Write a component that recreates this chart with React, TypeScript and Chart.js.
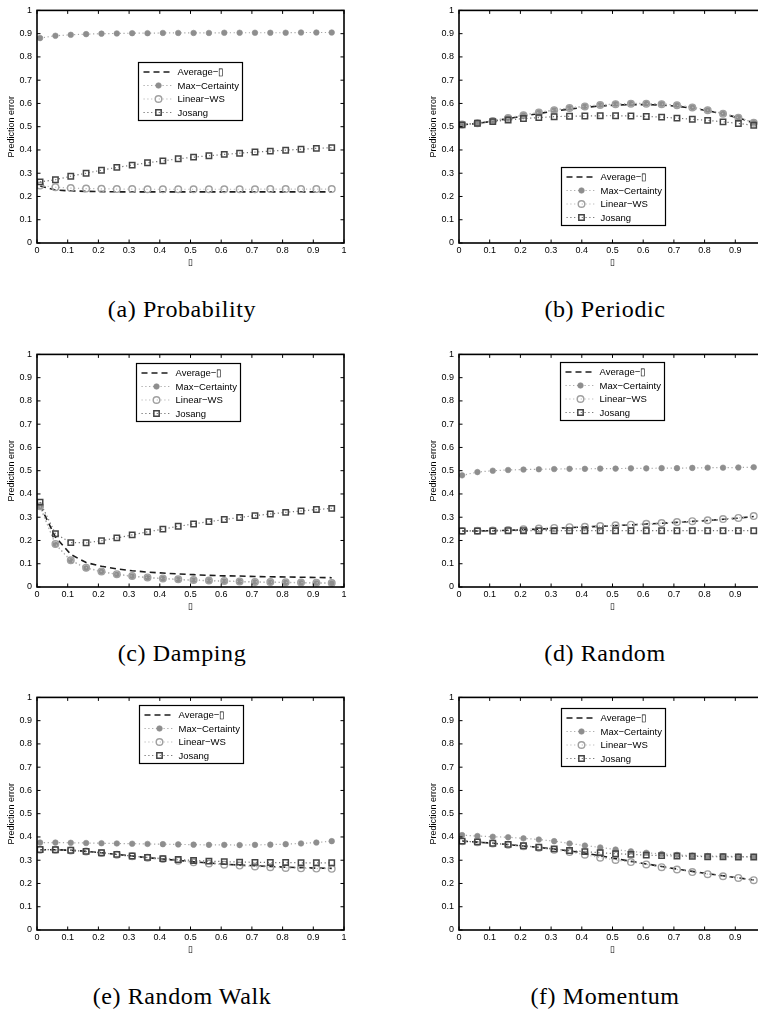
import React, { useEffect, useRef } from 'react';
import { Chart, registerables } from 'chart.js';

Chart.register(...registerables);

// ---------------- data ----------------
const LAMBDA = [0.01, 0.06, 0.11, 0.16, 0.21, 0.26, 0.31, 0.36, 0.41, 0.46, 0.51, 0.56, 0.61, 0.66, 0.71, 0.76, 0.81, 0.86, 0.91, 0.96];
const X_TICKS = [0, 0.1, 0.2, 0.3, 0.4, 0.5, 0.6, 0.7, 0.8, 0.9, 1];
const Y_TICKS = [0, 0.1, 0.2, 0.3, 0.4, 0.5, 0.6, 0.7, 0.8, 0.9, 1];
const SERIES_NAMES = ['Average\u2212\u25AF', 'Max\u2212Certainty', 'Linear\u2212WS', 'Josang'];
const CAPTIONS = ['(a) Probability', '(b) Periodic', '(c) Damping', '(d) Random', '(e) Random Walk', '(f) Momentum'];
const X_TITLE = '\u25AF';
const Y_TITLE = 'Prediction error';

// (a) Probability
const PROBABILITY_AVERAGE = [0.245, 0.228, 0.224, 0.222, 0.221, 0.220, 0.220, 0.220, 0.220, 0.220, 0.220, 0.220, 0.220, 0.220, 0.220, 0.220, 0.220, 0.220, 0.220, 0.220];
const PROBABILITY_MAX = [0.881, 0.891, 0.895, 0.898, 0.900, 0.901, 0.902, 0.902, 0.903, 0.903, 0.903, 0.903, 0.904, 0.904, 0.904, 0.904, 0.904, 0.905, 0.905, 0.905];
const PROBABILITY_LINEAR = [0.247, 0.240, 0.236, 0.234, 0.233, 0.232, 0.232, 0.231, 0.231, 0.231, 0.231, 0.231, 0.231, 0.231, 0.231, 0.232, 0.232, 0.232, 0.232, 0.232];
const PROBABILITY_JOSANG = [0.263, 0.272, 0.287, 0.300, 0.313, 0.325, 0.335, 0.345, 0.353, 0.362, 0.369, 0.375, 0.381, 0.386, 0.391, 0.395, 0.399, 0.403, 0.407, 0.410];

// (b) Periodic
const PERIODIC_AVERAGE = [0.508, 0.514, 0.524, 0.535, 0.546, 0.557, 0.567, 0.576, 0.583, 0.589, 0.593, 0.595, 0.595, 0.593, 0.588, 0.580, 0.569, 0.555, 0.538, 0.516];
const PERIODIC_MAX = [0.510, 0.516, 0.526, 0.538, 0.550, 0.562, 0.572, 0.581, 0.588, 0.594, 0.598, 0.600, 0.600, 0.598, 0.593, 0.584, 0.572, 0.557, 0.540, 0.518];
const PERIODIC_LINEAR = [0.509, 0.515, 0.525, 0.537, 0.549, 0.561, 0.571, 0.580, 0.587, 0.593, 0.597, 0.599, 0.599, 0.597, 0.592, 0.583, 0.571, 0.556, 0.539, 0.517];
const PERIODIC_JOSANG = [0.508, 0.515, 0.522, 0.529, 0.535, 0.539, 0.543, 0.545, 0.546, 0.547, 0.547, 0.546, 0.544, 0.541, 0.537, 0.532, 0.527, 0.521, 0.514, 0.506];

// (c) Damping
const DAMPING_AVERAGE = [0.350, 0.215, 0.140, 0.105, 0.089, 0.078, 0.070, 0.064, 0.060, 0.056, 0.053, 0.050, 0.048, 0.047, 0.045, 0.044, 0.043, 0.042, 0.041, 0.040];
const DAMPING_MAX = [0.345, 0.183, 0.113, 0.081, 0.066, 0.054, 0.046, 0.040, 0.036, 0.032, 0.029, 0.027, 0.025, 0.023, 0.021, 0.020, 0.019, 0.018, 0.017, 0.016];
const DAMPING_LINEAR = [0.347, 0.185, 0.115, 0.083, 0.067, 0.055, 0.047, 0.041, 0.037, 0.033, 0.030, 0.028, 0.026, 0.024, 0.022, 0.021, 0.020, 0.019, 0.018, 0.017];
const DAMPING_JOSANG = [0.365, 0.229, 0.191, 0.190, 0.199, 0.211, 0.224, 0.237, 0.249, 0.261, 0.271, 0.281, 0.290, 0.299, 0.307, 0.314, 0.321, 0.327, 0.333, 0.338];

// (d) Random
const RANDOM_AVERAGE = [0.241, 0.241, 0.242, 0.244, 0.246, 0.249, 0.252, 0.255, 0.258, 0.261, 0.264, 0.267, 0.271, 0.274, 0.278, 0.282, 0.286, 0.291, 0.296, 0.303];
const RANDOM_MAX = [0.480, 0.494, 0.500, 0.503, 0.505, 0.506, 0.507, 0.508, 0.508, 0.509, 0.509, 0.510, 0.510, 0.511, 0.511, 0.512, 0.513, 0.513, 0.514, 0.515];
const RANDOM_LINEAR = [0.241, 0.242, 0.243, 0.245, 0.248, 0.251, 0.254, 0.257, 0.259, 0.262, 0.265, 0.268, 0.272, 0.275, 0.279, 0.283, 0.287, 0.292, 0.297, 0.305];
const RANDOM_JOSANG = [0.241, 0.241, 0.241, 0.242, 0.242, 0.242, 0.242, 0.242, 0.242, 0.242, 0.242, 0.242, 0.242, 0.242, 0.242, 0.242, 0.242, 0.242, 0.242, 0.242];

// (e) Random Walk
const WALK_AVERAGE = [0.345, 0.345, 0.343, 0.338, 0.332, 0.325, 0.318, 0.311, 0.305, 0.299, 0.293, 0.288, 0.283, 0.279, 0.276, 0.273, 0.270, 0.268, 0.266, 0.265];
const WALK_MAX = [0.376, 0.376, 0.375, 0.374, 0.373, 0.372, 0.371, 0.370, 0.369, 0.368, 0.367, 0.366, 0.366, 0.365, 0.366, 0.367, 0.369, 0.372, 0.376, 0.382];
const WALK_LINEAR = [0.345, 0.345, 0.342, 0.337, 0.331, 0.324, 0.317, 0.311, 0.305, 0.298, 0.291, 0.286, 0.281, 0.277, 0.273, 0.270, 0.267, 0.265, 0.264, 0.263];
const WALK_JOSANG = [0.346, 0.345, 0.343, 0.338, 0.332, 0.325, 0.318, 0.312, 0.307, 0.303, 0.299, 0.296, 0.294, 0.292, 0.291, 0.290, 0.290, 0.289, 0.289, 0.289];

// (f) Momentum
const MOMENTUM_AVERAGE = [0.382, 0.378, 0.373, 0.367, 0.361, 0.355, 0.348, 0.340, 0.331, 0.319, 0.307, 0.295, 0.284, 0.273, 0.262, 0.252, 0.242, 0.233, 0.224, 0.215];
const MOMENTUM_MAX = [0.408, 0.404, 0.401, 0.399, 0.394, 0.389, 0.382, 0.372, 0.363, 0.355, 0.346, 0.338, 0.332, 0.327, 0.323, 0.320, 0.318, 0.317, 0.316, 0.315];
const MOMENTUM_LINEAR = [0.382, 0.377, 0.372, 0.366, 0.360, 0.354, 0.345, 0.335, 0.324, 0.311, 0.301, 0.292, 0.282, 0.270, 0.260, 0.249, 0.240, 0.231, 0.224, 0.214];
const MOMENTUM_JOSANG = [0.382, 0.379, 0.373, 0.368, 0.362, 0.356, 0.349, 0.342, 0.337, 0.332, 0.328, 0.325, 0.322, 0.320, 0.318, 0.317, 0.315, 0.315, 0.314, 0.314];

const PANEL_SERIES = [
  [PROBABILITY_AVERAGE, PROBABILITY_MAX, PROBABILITY_LINEAR, PROBABILITY_JOSANG],
  [PERIODIC_AVERAGE, PERIODIC_MAX, PERIODIC_LINEAR, PERIODIC_JOSANG],
  [DAMPING_AVERAGE, DAMPING_MAX, DAMPING_LINEAR, DAMPING_JOSANG],
  [RANDOM_AVERAGE, RANDOM_MAX, RANDOM_LINEAR, RANDOM_JOSANG],
  [WALK_AVERAGE, WALK_MAX, WALK_LINEAR, WALK_JOSANG],
  [MOMENTUM_AVERAGE, MOMENTUM_MAX, MOMENTUM_LINEAR, MOMENTUM_JOSANG],
];

// ---------------- layout & style ----------------
const SANS = '"Liberation Sans", Arial, Helvetica, sans-serif';
const SERIF = '"Liberation Serif", "Times New Roman", serif';
const CANVAS_W = 360;
const CANVAS_H = 273;
const PLOT_LEFT = 37;
const PLOT_TOP = 5;
const PLOT_RIGHT_PAD = 16;
const X_AXIS_H = 30;
const TICK_LEN = 3.5;
const LEGEND_FONT = 9.5;
const TICK_FONT = 9;

const COL_LEFT = [0, 422];
const ROW_TOP = [0, 344, 687];
const CAPTION_CENTER = [182, 605];
const CAPTION_BASELINE_OFFSET = 316.7; // from row top
const LEGEND_POS = [
  { dx: 101, dy: 52 },
  { dx: 102, dy: 157 },
  { dx: 99, dy: 9 },
  { dx: 101, dy: 8 },
  { dx: 102, dy: 7.5 },
  { dx: 102, dy: 10.5 },
];

const SERIES_STYLES: any[] = [
  { borderColor: '#1c1c1c', borderWidth: 1.6, borderDash: [6, 4], pointRadius: 0, pointStyle: false, order: 4 },
  { borderColor: '#a6a6a6', borderWidth: 1.2, borderDash: [1.2, 2.6], pointStyle: 'circle', pointRadius: 2.8, pointBackgroundColor: '#8e8e8e', pointBorderColor: '#8e8e8e', pointBorderWidth: 0.6, order: 3 },
  { borderColor: '#b8b8b8', borderWidth: 1.2, borderDash: [1.2, 2.6], pointStyle: 'circle', pointRadius: 3.3, pointBackgroundColor: 'rgba(0,0,0,0)', pointBorderColor: '#a0a0a0', pointBorderWidth: 1.4, order: 2 },
  { borderColor: '#707070', borderWidth: 1.2, borderDash: [1.2, 2.6], pointStyle: 'rect', pointRadius: 3.8, pointBackgroundColor: 'rgba(0,0,0,0)', pointBorderColor: '#444444', pointBorderWidth: 1.5, order: 1 },
];

// ---------------- plugins ----------------
const framePlugin = {
  id: 'matlabFrame',
  afterDatasetsDraw(chart: any) {
    const { ctx, chartArea: a, scales } = chart;
    const xs = scales.x;
    const ys = scales.y;
    ctx.save();
    ctx.strokeStyle = '#000';
    ctx.lineWidth = 1;
    ctx.setLineDash([]);
    ctx.beginPath();
    for (const t of xs.ticks) {
      const px = xs.getPixelForValue(t.value);
      ctx.moveTo(px, a.bottom);
      ctx.lineTo(px, a.bottom - TICK_LEN);
      ctx.moveTo(px, a.top);
      ctx.lineTo(px, a.top + TICK_LEN);
    }
    for (const t of ys.ticks) {
      const py = ys.getPixelForValue(t.value);
      ctx.moveTo(a.left, py);
      ctx.lineTo(a.left + TICK_LEN, py);
      ctx.moveTo(a.right, py);
      ctx.lineTo(a.right - TICK_LEN, py);
    }
    ctx.stroke();
    ctx.lineWidth = 1.6;
    ctx.strokeRect(a.left, a.top, a.right - a.left, a.bottom - a.top);
    ctx.restore();
  },
};

const legendPlugin = {
  id: 'insideLegend',
  afterDraw(chart: any, _args: any, opts: any) {
    const { ctx, chartArea: a } = chart;
    const x0 = Math.round(a.left + opts.dx) + 0.5;
    const y0 = Math.round(a.top + opts.dy) + 0.5;
    const ds = chart.data.datasets;
    ctx.save();
    ctx.font = `${LEGEND_FONT}px ${SANS}`;
    const textW = Math.max(...ds.map((d: any) => ctx.measureText(d.label).width));
    const w = Math.round(39 + textW + 3);
    const h = 58;
    ctx.fillStyle = '#fff';
    ctx.fillRect(x0, y0, w, h);
    ctx.lineWidth = 1.2;
    ctx.strokeStyle = '#000';
    ctx.setLineDash([]);
    ctx.strokeRect(x0, y0, w, h);
    ds.forEach((d: any, i: number) => {
      const cy = y0 + 9.5 + i * 13.5;
      ctx.save();
      ctx.strokeStyle = d.borderColor;
      ctx.lineWidth = d.borderWidth;
      ctx.setLineDash(d.borderDash || []);
      ctx.beginPath();
      ctx.moveTo(x0 + 5, cy);
      ctx.lineTo(x0 + 35, cy);
      ctx.stroke();
      ctx.setLineDash([]);
      if (d.pointRadius > 0) {
        const r = d.pointRadius;
        const cx = x0 + 20;
        ctx.fillStyle = d.pointBackgroundColor;
        ctx.strokeStyle = d.pointBorderColor;
        ctx.lineWidth = d.pointBorderWidth;
        ctx.beginPath();
        if (d.pointStyle === 'rect') {
          const s = r * Math.SQRT1_2;
          ctx.rect(cx - s, cy - s, 2 * s, 2 * s);
        } else {
          ctx.arc(cx, cy, r, 0, Math.PI * 2);
        }
        ctx.fill();
        ctx.stroke();
      }
      ctx.restore();
      ctx.fillStyle = '#000';
      ctx.textBaseline = 'middle';
      ctx.textAlign = 'left';
      ctx.fillText(d.label, x0 + 39, cy + 0.5);
    });
    ctx.restore();
  },
};

// ---------------- components ----------------
function Panel({ index }: { index: number }) {
  const ref = useRef<HTMLCanvasElement>(null);
  const col = index % 2;
  const row = Math.floor(index / 2);
  useEffect(() => {
    const series = PANEL_SERIES[index];
    const tickFont = { family: SANS, size: TICK_FONT };
    const chart = new Chart(ref.current as HTMLCanvasElement, {
      type: 'line',
      data: {
        datasets: series.map((vals, k) => ({
          label: SERIES_NAMES[k],
          data: LAMBDA.map((x, i) => ({ x, y: vals[i] })),
          fill: false,
          tension: 0,
          ...SERIES_STYLES[k],
        })),
      },
      options: {
        animation: false,
        responsive: false,
        devicePixelRatio: 1,
        events: [],
        layout: { padding: { top: PLOT_TOP, left: 0, right: PLOT_RIGHT_PAD, bottom: 0 } },
        plugins: {
          legend: { display: false },
          tooltip: { enabled: false },
          insideLegend: LEGEND_POS[index],
        } as any,
        scales: {
          x: {
            type: 'linear',
            min: 0,
            max: 1,
            afterBuildTicks: (s: any) => { s.ticks = X_TICKS.map((value) => ({ value })); },
            afterFit: (s: any) => { s.height = X_AXIS_H; },
            grid: { display: false, drawTicks: false },
            border: { display: false },
            ticks: { padding: 2.5, color: '#000', font: tickFont, maxRotation: 0, autoSkip: false, callback: (v: any) => String(v) },
            title: { display: true, text: X_TITLE, color: '#000', font: { family: SANS, size: 9 }, padding: { top: 0, bottom: 4.6 } },
          },
          y: {
            type: 'linear',
            min: 0,
            max: 1,
            afterBuildTicks: (s: any) => { s.ticks = Y_TICKS.map((value) => ({ value })); },
            afterFit: (s: any) => { s.width = PLOT_LEFT; },
            grid: { display: false, drawTicks: false },
            border: { display: false },
            ticks: { padding: 5, color: '#000', font: tickFont, autoSkip: false, callback: (v: any) => String(v) },
            title: { display: true, text: Y_TITLE, color: '#000', font: { family: SANS, size: 9 }, padding: { top: 6.6, bottom: 0 } },
          },
        },
      } as any,
      plugins: [framePlugin, legendPlugin],
    });
    return () => chart.destroy();
  }, [index]);

  const baseline = ROW_TOP[row] + CAPTION_BASELINE_OFFSET;
  return (
    <>
      <canvas
        ref={ref}
        width={CANVAS_W}
        height={CANVAS_H}
        style={{ position: 'absolute', left: COL_LEFT[col], top: ROW_TOP[row], width: CANVAS_W, height: CANVAS_H }}
      />
      <div
        style={{
          position: 'absolute',
          left: CAPTION_CENTER[col] - 150,
          top: baseline - 20.1,
          width: 300,
          textAlign: 'center',
          fontFamily: SERIF,
          fontSize: 24,
          lineHeight: 1,
          letterSpacing: '0.6px',
          color: '#000',
          whiteSpace: 'nowrap',
        }}
      >
        {CAPTIONS[index]}
      </div>
    </>
  );
}

export default function App() {
  return (
    <div
      style={{
        position: 'absolute',
        left: 0,
        top: 0,
        width: 758,
        height: 1012,
        overflow: 'hidden',
        background: '#fff',
      }}
    >
      {CAPTIONS.map((_, i) => (
        <Panel key={i} index={i} />
      ))}
    </div>
  );
}
